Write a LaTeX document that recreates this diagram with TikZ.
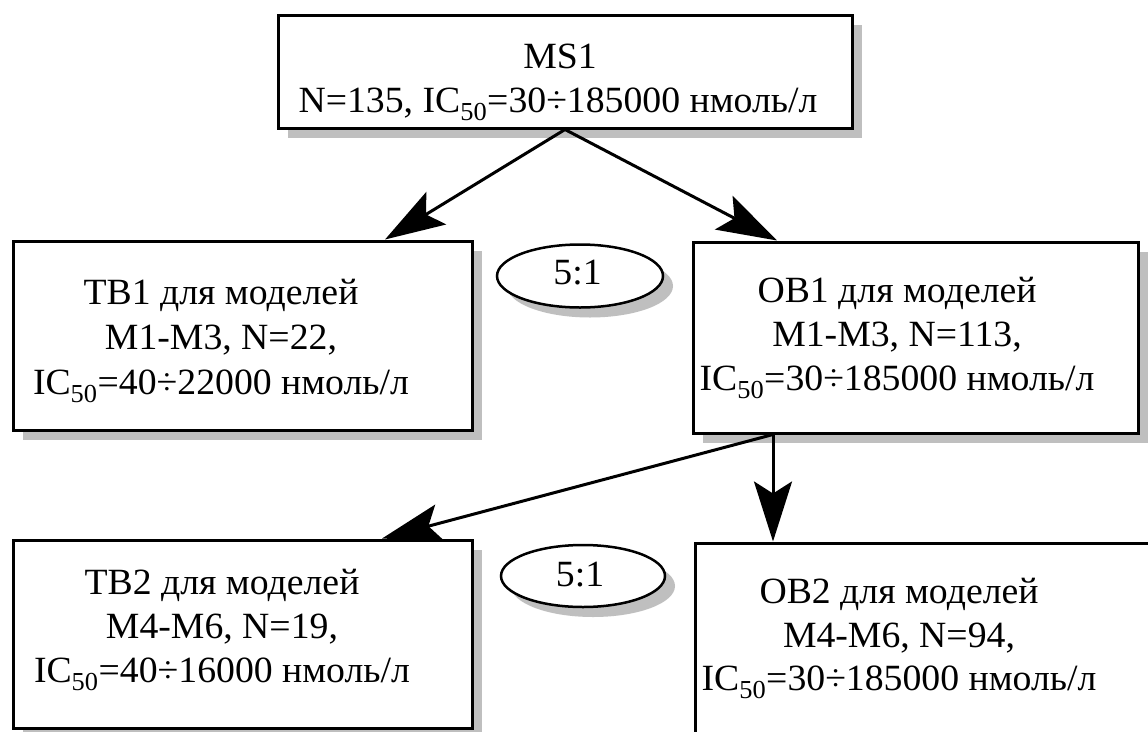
\documentclass[tikz,border=0pt]{standalone}
\usepackage{fontspec}
\setmainfont[FakeStretch=1.02]{Liberation Serif}
\usetikzlibrary{shapes.geometric,shadows,arrows.meta,calc}
\begin{document}
\begin{tikzpicture}[x=1pt,y=-1pt,
  shadowgray/.style={drop shadow={shadow xshift=10pt,shadow yshift=-10pt,fill=black!25,opacity=1}},
  box/.style={draw,line width=3pt,fill=white,rectangle,inner sep=0pt,shadowgray},
  oval/.style={draw,ellipse,line width=2.5pt,fill=white,inner sep=0pt,shadowgray},
  txt/.style={font=\fontsize{37}{44}\selectfont,anchor=base,inner sep=0pt},
  arr/.style={line width=3pt,-{Stealth[length=60pt,width=38pt,inset=12pt]}}
]
\clip (0,0) rectangle (1148,731);
\fill[white] (0,0) rectangle (1148,731);

% boxes
\node[box,minimum width=574pt,minimum height=113pt] (ms1) at (565,71.5) {};
\node[box,minimum width=459pt,minimum height=189pt] (tb1) at (242.5,335.5) {};
\node[box,minimum width=445pt,minimum height=191pt] (ob1) at (915.5,337.5) {};
\node[box,minimum width=459pt,minimum height=188pt] (tb2) at (242.5,634) {};
\node[box,minimum width=470pt,minimum height=202pt] (ob2) at (930,644) {};

% ovals
\node[oval,minimum width=166pt,minimum height=63pt] (r1) at (580,276) {};
\node[oval,minimum width=164pt,minimum height=62pt] (r2) at (583,576) {};

% texts
\node[txt] (ms1a) at (560,68) {MS1};
\node[txt] (ms1b) at (558,112) {N=135, IC\textsubscript{50}=30÷185000 нмоль/л};

\node[txt] (tb1a) at (221,304) {ТВ1 для моделей};
\node[txt] (tb1b) at (221,349) {М1-М3, N=22,};
\node[txt] (tb1c) at (221,394) {IC\textsubscript{50}=40÷22000 нмоль/л};

\node[txt] (ob1a) at (897,302) {ОВ1 для моделей};
\node[txt] (ob1b) at (897,346) {М1-М3, N=113,};
\node[txt] (ob1c) at (897,390) {IC\textsubscript{50}=30÷185000 нмоль/л};

\node[txt] (tb2a) at (222,594) {ТВ2 для моделей};
\node[txt] (tb2b) at (222,638) {М4-М6, N=19,};
\node[txt] (tb2c) at (222,682) {IC\textsubscript{50}=40÷16000 нмоль/л};

\node[txt] (ob2a) at (899,603) {ОВ2 для моделей};
\node[txt] (ob2b) at (899,647) {М4-М6, N=94,};
\node[txt] (ob2c) at (899,690) {IC\textsubscript{50}=30÷185000 нмоль/л};

\node[txt] (r1t) at (577.5,284) {5:1};
\node[txt] (r2t) at (580,586) {5:1};

% connectors
\draw[arr] (ms1.south) -- ([xshift=142.5pt]tb1.north);
\draw[arr] (ms1.south) -- ([xshift=-138.5pt]ob1.north);
\draw[arr] ([xshift=-142.5pt]ob1.south) -- ([xshift=139.5pt]tb2.north);
\draw[arr] ([xshift=-142.5pt]ob1.south) -- ([xshift=-157pt]ob2.north);
\end{tikzpicture}
\end{document}
